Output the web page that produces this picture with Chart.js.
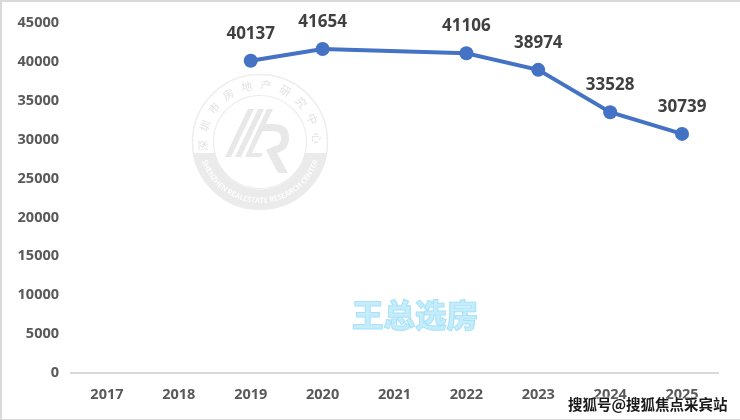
<!DOCTYPE html>
<html>
<head>
<meta charset="utf-8">
<script src="https://cdn.jsdelivr.net/npm/chart.js@4/dist/chart.umd.min.js"></script>
<style>
  html, body { margin: 0; padding: 0; background: #fff; overflow: hidden; }
  #wrap { position: relative; width: 740px; height: 420px; }
  #frame { position: absolute; left: 0; top: 0; width: 738px; height: 417px; border-left: 2px solid #d9d9d9; border-top: 2px solid #d9d9d9; border-bottom: 1px solid #d9d9d9; }
  #seal { position: absolute; left: 188px; top: 70px; }
  #wang { position: absolute; left: 352px; top: 295px; font: 900 31.5px/36px "Noto Sans CJK SC"; color: #c4ecfb; -webkit-text-stroke: 1px #a8e2f8; }
  #sohu { position: absolute; left: 568px; top: 394px; font: 700 14.5px/20px "Noto Sans CJK SC"; color: #1a1a1a; text-shadow: 0 0 2px #fff, 1px 0 1px #fff, -1px 0 1px #fff; white-space: nowrap; }
</style>
</head>
<body>
<div id="wrap">
  <canvas id="chart-area" width="740" height="420"></canvas>
  <div id="frame"></div>
  <svg id="seal" width="144" height="144" viewBox="-72 -72 144 144">
    <defs>
      <path id="ring-top" d="M -52 9 A 52.8 52.8 0 1 1 52 9"></path>
      <path id="ring-bottom" d="M -60 11 A 61 61 0 0 0 60 11"></path>
    </defs>
    <circle r="67.5" fill="none" stroke="#ededed" stroke-width="1.5"></circle>
    <circle r="46.5" fill="none" stroke="#ededed" stroke-width="1.2"></circle>
    <path d="M -67 11 A 68 68 0 0 0 67 11 L 45 11 A 46 46 0 0 1 -45 11 Z" fill="#ebebeb"></path>
    <text font-family="Noto Sans CJK SC" font-size="11" fill="#e2e2e2" letter-spacing="7.4"><textPath href="#ring-top">深圳市房地产研究中心</textPath></text>
    <text font-family="Open Sans" font-size="7.4" font-weight="600" fill="#ffffff"><textPath href="#ring-bottom" startOffset="50%" text-anchor="middle">SHENZHEN REALESTATE RESEARCH CENTER</textPath></text>
    <g fill="#e8e8e8">
      <polygon points="-12,-33 -6,-33 -29,15 -35,15"></polygon>
      <polygon points="-2,-33 4,-33 -19,15 -25,15"></polygon>
      <polygon points="7,-33 13,-33 -8,11 3,11 1,15 -15,15"></polygon>
      <path d="M 3,-18 L 14,-18 Q 29,-18 29,-4 Q 29,8 17,11 L 28,31 L 18,31 L 6,8 L 15,4 Q 21,3 21,-4 Q 21,-11 13,-11 L 0,-11 Z"></path>
    </g>
  </svg>
  <div id="wang">王总选房</div>
  <div id="sohu">搜狐号@搜狐焦点采宾站</div>
</div>
<script>
const years = ['2017', '2018', '2019', '2020', '2021', '2022', '2023', '2024', '2025'];
const supply = [null, null, 40137, 41654, null, 41106, 38974, 33528, 30739];
const yTicks = [0, 5000, 10000, 15000, 20000, 25000, 30000, 35000, 40000, 45000];

const tickFont = { family: '"Open Sans"', size: 14.5, weight: '700' };

// value labels above each point
const valueLabels = {
    id: 'valueLabels',
    afterDatasetsDraw(chart) {
        const ctx = chart.ctx;
        const points = chart.getDatasetMeta(0).data;
        ctx.save();
        ctx.font = '700 17px "Open Sans"';
        ctx.fillStyle = '#404040';
        ctx.textAlign = 'center';
        ctx.textBaseline = 'middle';
        supply.forEach(function (v, i) {
            if (v === null) return;
            ctx.fillText(String(v), points[i].x, points[i].y - 27);
        });
        ctx.restore();
    },
};

new Chart(document.getElementById('chart-area'), {
    type: 'line',
    data: {
        labels: years,
        datasets: [
            {
                data: supply,
                borderColor: '#4472C4',
                backgroundColor: '#4472C4',
                borderWidth: 4,
                pointRadius: 7,
                pointBackgroundColor: '#4472C4',
                pointBorderWidth: 0,
                spanGaps: true,
                fill: false,
                tension: 0,
            },
        ],
    },
    plugins: [valueLabels],
    options: {
        responsive: false,
        animation: false,
        layout: { padding: { left: 0, right: 22, top: 23, bottom: 0 } },
        plugins: { legend: { display: false }, title: { display: false }, tooltip: { enabled: false } },
        scales: {
            x: {
                offset: true,
                grid: { display: false, drawTicks: false },
                border: { color: '#d9d9d9', width: 2 },
                ticks: { color: '#595959', font: tickFont, padding: 13, maxRotation: 0 },
                afterFit(scale) { scale.height = 47; },
            },
            y: {
                min: 0,
                max: 45000,
                afterBuildTicks(scale) { scale.ticks = yTicks.map(function (v) { return { value: v }; }); },
                grid: { display: false, drawTicks: false },
                border: { display: false },
                ticks: {
                    color: '#595959',
                    font: tickFont,
                    padding: 12,
                    callback: function (v) { return String(v); },
                },
                afterFit(scale) { scale.width = 71; },
            },
        },
    },
});
</script>
</body>
</html>
